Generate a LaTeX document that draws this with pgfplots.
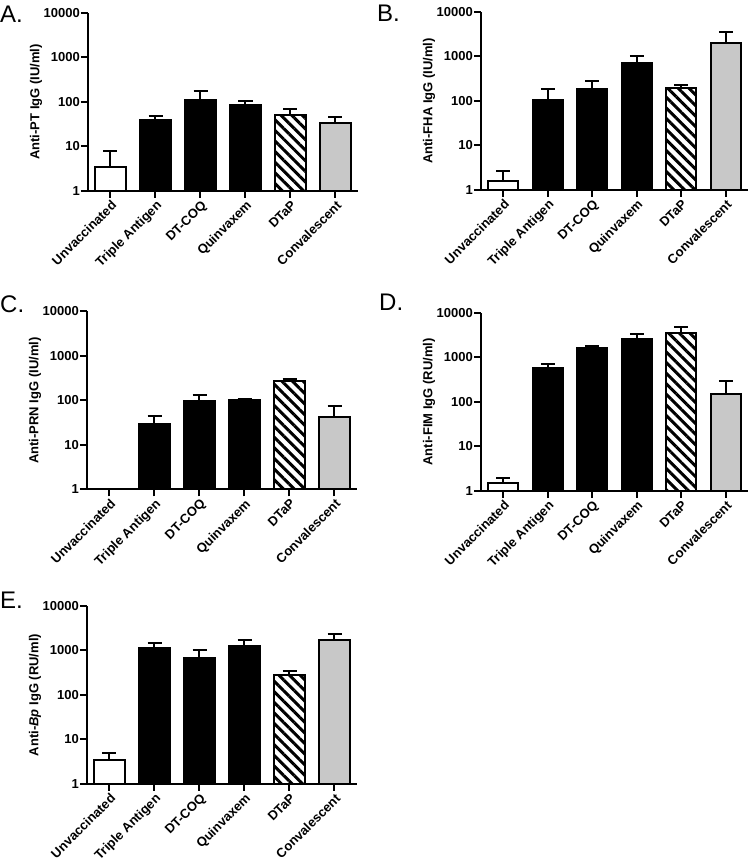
\documentclass[border=0pt]{standalone}
\usepackage{fontspec}
\setmainfont{Liberation Sans}
\usepackage{pgfplots}
\pgfplotsset{compat=1.18}
\usetikzlibrary{patterns.meta}
\definecolor{convgrey}{RGB}{200,200,200}
\pgfplotsset{
  mybarn/.style={ybar, bar width=0.667, bar shift=0pt, draw=black, line width=2pt},
  mybar/.style={mybarn,
     error bars/y dir=plus, error bars/y explicit,
     error bars/error bar style={line width=2pt, black, solid},
     error bars/error mark options={line width=2pt, mark size=7pt, black, rotate=90}},
  mywbar/.style={mybar, fill=white},
  mykbar/.style={mybar, fill=black},
  myhbar/.style={mybar, pattern={Lines[angle=-45,distance=7.5pt,line width=3pt]}, pattern color=black},
  mygbar/.style={mybar, fill=convgrey},
}
\begin{document}
\begin{tikzpicture}
\path[use as bounding box] (0,0) rectangle (750pt,863pt);
% Panel A
\begin{axis}[ymode=log, scale only axis, width=270pt, height=178pt,
    ymin=1, ymax=10000, xmin=-0.5, xmax=5.5,
    axis lines=left, axis line style={line width=2pt, -},
    ytick={1,10,100,1000,10000}, yticklabels={1,10,100,1000,10000},
    minor tick length=0pt,
    xtick={0,1,2,3,4,5},
    xticklabels={Unvaccinated,Triple Antigen,DT-COQ,Quinvaxem,DTaP,Convalescent},
    tick align=outside, major tick length=7pt,
    tick style={line width=2pt, black},
    tick label style={font=\bfseries\fontsize{13}{13}\selectfont},
    x tick label style={rotate=45, anchor=north east, inner sep=1pt},
    y tick label style={inner sep=1pt},
    ylabel style={font=\bfseries\fontsize{13}{13}\selectfont, yshift=-3pt},
    clip=false,
    at={(88pt,672pt)}, anchor=south west, ylabel={Anti-PT IgG (IU/ml)}]
\addplot[mywbar] coordinates {(0,3.4) += (0,4.7)};
\addplot[mykbar] coordinates {(1,38.6) += (0,8.9) (2,111) += (0,63) (3,85.5) += (0,19.5)};
\addplot[myhbar] coordinates {(4,51.8) += (0,18.9)};
\addplot[mygbar] coordinates {(5,34) += (0,11)};
\end{axis}
% Panel B
\begin{axis}[ymode=log, scale only axis, width=267pt, height=178pt,
    ymin=1, ymax=10000, xmin=-0.5, xmax=5.5,
    axis lines=left, axis line style={line width=2pt, -},
    ytick={1,10,100,1000,10000}, yticklabels={1,10,100,1000,10000},
    minor tick length=0pt,
    xtick={0,1,2,3,4,5},
    xticklabels={Unvaccinated,Triple Antigen,DT-COQ,Quinvaxem,DTaP,Convalescent},
    tick align=outside, major tick length=7pt,
    tick style={line width=2pt, black},
    tick label style={font=\bfseries\fontsize{13}{13}\selectfont},
    x tick label style={rotate=45, anchor=north east, inner sep=1pt},
    y tick label style={inner sep=1pt},
    ylabel style={font=\bfseries\fontsize{13}{13}\selectfont, yshift=-3pt},
    clip=false,
    at={(481pt,673pt)}, anchor=south west, ylabel={Anti-FHA IgG (IU/ml)}]
\addplot[mywbar] coordinates {(0,1.62) += (0,1.08)};
\addplot[mykbar] coordinates {(1,105) += (0,77) (2,182) += (0,98) (3,721) += (0,314)};
\addplot[myhbar] coordinates {(4,192) += (0,36)};
\addplot[mygbar] coordinates {(5,2057) += (0,1508)};
\end{axis}
% Panel C
\begin{axis}[ymode=log, scale only axis, width=270pt, height=178pt,
    ymin=1, ymax=10000, xmin=-0.5, xmax=5.5,
    axis lines=left, axis line style={line width=2pt, -},
    ytick={1,10,100,1000,10000}, yticklabels={1,10,100,1000,10000},
    minor tick length=0pt,
    xtick={0,1,2,3,4,5},
    xticklabels={Unvaccinated,Triple Antigen,DT-COQ,Quinvaxem,DTaP,Convalescent},
    tick align=outside, major tick length=7pt,
    tick style={line width=2pt, black},
    tick label style={font=\bfseries\fontsize{13}{13}\selectfont},
    x tick label style={rotate=45, anchor=north east, inner sep=1pt},
    y tick label style={inner sep=1pt},
    ylabel style={font=\bfseries\fontsize{13}{13}\selectfont, yshift=-3pt},
    clip=false,
    at={(87pt,373.5pt)}, anchor=south west, ylabel={Anti-PRN IgG (IU/ml)}]
\addplot[mykbar] coordinates {(1,29.5) += (0,14.5) (2,96.6) += (0,37.4) (3,102) += (0,7)};
\addplot[myhbar] coordinates {(4,271) += (0,40)};
\addplot[mygbar] coordinates {(5,42) += (0,35)};
\end{axis}
% Panel D
\begin{axis}[ymode=log, scale only axis, width=267pt, height=178pt,
    ymin=1, ymax=10000, xmin=-0.5, xmax=5.5,
    axis lines=left, axis line style={line width=2pt, -},
    ytick={1,10,100,1000,10000}, yticklabels={1,10,100,1000,10000},
    minor tick length=0pt,
    xtick={0,1,2,3,4,5},
    xticklabels={Unvaccinated,Triple Antigen,DT-COQ,Quinvaxem,DTaP,Convalescent},
    tick align=outside, major tick length=7pt,
    tick style={line width=2pt, black},
    tick label style={font=\bfseries\fontsize{13}{13}\selectfont},
    x tick label style={rotate=45, anchor=north east, inner sep=1pt},
    y tick label style={inner sep=1pt},
    ylabel style={font=\bfseries\fontsize{13}{13}\selectfont, yshift=-3pt},
    clip=false,
    at={(481pt,372pt)}, anchor=south west, ylabel={Anti-FIM IgG (RU/ml)}]
\addplot[mywbar] coordinates {(0,1.49) += (0,0.43)};
\addplot[mykbar] coordinates {(1,577) += (0,120) (2,1618) += (0,206) (3,2573) += (0,815)};
\addplot[myhbar] coordinates {(4,3630) += (0,1146)};
\addplot[mygbar] coordinates {(5,148) += (0,147)};
\end{axis}
% Panel E
\begin{axis}[ymode=log, scale only axis, width=270pt, height=178pt,
    ymin=1, ymax=10000, xmin=-0.5, xmax=5.5,
    axis lines=left, axis line style={line width=2pt, -},
    ytick={1,10,100,1000,10000}, yticklabels={1,10,100,1000,10000},
    minor tick length=0pt,
    xtick={0,1,2,3,4,5},
    xticklabels={Unvaccinated,Triple Antigen,DT-COQ,Quinvaxem,DTaP,Convalescent},
    tick align=outside, major tick length=7pt,
    tick style={line width=2pt, black},
    tick label style={font=\bfseries\fontsize{13}{13}\selectfont},
    x tick label style={rotate=45, anchor=north east, inner sep=1pt},
    y tick label style={inner sep=1pt},
    ylabel style={font=\bfseries\fontsize{13}{13}\selectfont, yshift=-3pt},
    clip=false,
    at={(87pt,79pt)}, anchor=south west, ylabel={Anti-\textit{Bp} IgG (RU/ml)}]
\addplot[mywbar] coordinates {(0,3.5) += (0,1.44)};
\addplot[mykbar] coordinates {(1,1128) += (0,382) (2,673) += (0,344) (3,1294) += (0,469)};
\addplot[myhbar] coordinates {(4,285) += (0,60)};
\addplot[mygbar] coordinates {(5,1763) += (0,559)};
\end{axis}
\node[anchor=north west, inner sep=0pt, font=\fontsize{24}{24}\selectfont] at (0pt,857pt) {A.};
\node[anchor=north west, inner sep=0pt, font=\fontsize{24}{24}\selectfont] at (377pt,858pt) {B.};
\node[anchor=north west, inner sep=0pt, font=\fontsize{24}{24}\selectfont] at (0pt,567pt) {C.};
\node[anchor=north west, inner sep=0pt, font=\fontsize{24}{24}\selectfont] at (379pt,569pt) {D.};
\node[anchor=north west, inner sep=0pt, font=\fontsize{24}{24}\selectfont] at (0pt,271pt) {E.};
\end{tikzpicture}
\end{document}
